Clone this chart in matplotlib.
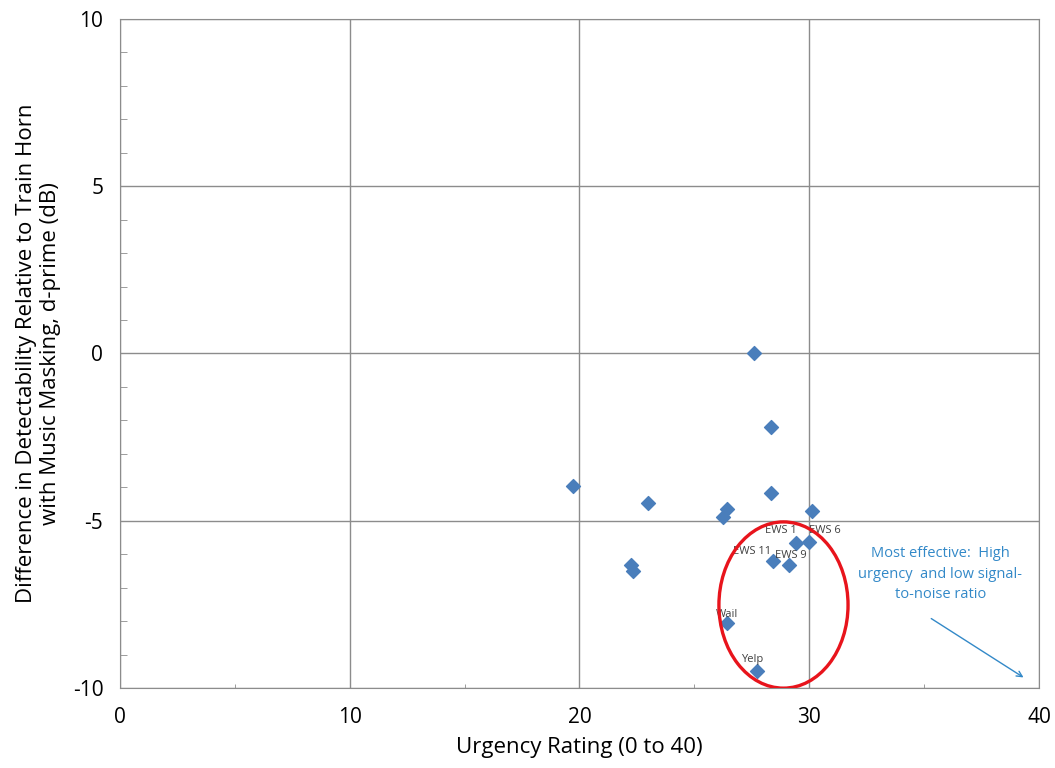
import numpy as np
import matplotlib
matplotlib.use("Agg")
import matplotlib.pyplot as plt
from matplotlib.patches import Ellipse
from matplotlib.ticker import MultipleLocator

# ── data ─────────────────────────────────────────────────────────────────────
urgency = [27.6, 28.34, 19.73, 22.98, 28.34, 26.42, 26.23, 30.13,
           22.24, 22.34, 29.41, 29.99, 28.41, 29.10, 26.43, 27.74]
dprime  = [0.0, -2.19, -3.96, -4.47, -4.18, -4.66, -4.90, -4.71,
           -6.31, -6.49, -5.66, -5.64, -6.20, -6.33, -8.07, -9.48]
labels  = ["", "", "", "", "", "", "", "",
           "", "", "EWS 1", "EWS 6", "EWS 11", "EWS 9", "Wail", "Yelp"]
# label placement: (dx, dy) in points, horizontal alignment
label_pos = {"EWS 1": (1, 8.5, "right"), "EWS 6": (0, 8.5, "left"),
             "EWS 11": (-1, 6.5, "right"), "EWS 9": (1.5, 7, "center"),
             "Wail": (0, 6.5, "center"), "Yelp": (-4, 8, "center")}

BLUE = "#4a7ebb"
GRID = "#8c8c8c"
NOTE = "#3389c8"

plt.rcParams["font.family"] = ["Open Sans", "DejaVu Sans"]
plt.rcParams["axes.unicode_minus"] = False

fig = plt.figure(figsize=(10.55, 7.68), dpi=100)
ax = fig.add_axes([0.1137, 0.1042, 0.8711, 0.8711])

ax.set_xlim(0, 40)
ax.set_ylim(-10, 10)
ax.xaxis.set_major_locator(MultipleLocator(10))
ax.xaxis.set_minor_locator(MultipleLocator(5))
ax.yaxis.set_major_locator(MultipleLocator(5))
ax.yaxis.set_minor_locator(MultipleLocator(1))
ax.grid(True, which="major", color=GRID, lw=1)
ax.set_axisbelow(True)
ax.tick_params(which="major", length=0, labelsize=15)
ax.tick_params(axis="y", which="major", pad=12)
ax.tick_params(axis="x", which="major", pad=14)
ax.tick_params(axis="y", which="minor", direction="in", length=5, color=GRID)
ax.tick_params(axis="x", which="minor", direction="in", length=3, color=GRID)
for s in ax.spines.values():
    s.set_color(GRID)

ax.scatter(urgency, dprime, marker="D", s=50, color=BLUE, zorder=3)

for x, y, lab in zip(urgency, dprime, labels):
    if lab:
        dx, dy, ha = label_pos[lab]
        ax.annotate(lab, (x, y), xytext=(dx, dy), textcoords="offset points",
                    fontsize=8, color="#404040", ha=ha, va="center")

ax.add_patch(Ellipse((28.88, -7.52), 5.62, 4.97, fill=False,
                     edgecolor="#e8141c", lw=2.4, zorder=4))

ax.text(35.7, -6.6, "Most effective:  High\nurgency  and low signal-\nto-noise ratio",
        ha="center", va="center", color=NOTE, fontsize=10.5, linespacing=1.5)
ax.annotate("", xy=(39.43, -9.73), xytext=(35.21, -7.88),
            arrowprops=dict(arrowstyle="->", color=NOTE, lw=1))

ax.set_xlabel("Urgency Rating (0 to 40)", fontsize=16, labelpad=6)
ax.set_ylabel("Difference in Detectability Relative to Train Horn\n"
              "with Music Masking, d-prime (dB)", fontsize=16,
              linespacing=1.2)
ax.yaxis.set_label_coords(-0.064, 0.5)

fig.savefig("out.png", dpi=100)
